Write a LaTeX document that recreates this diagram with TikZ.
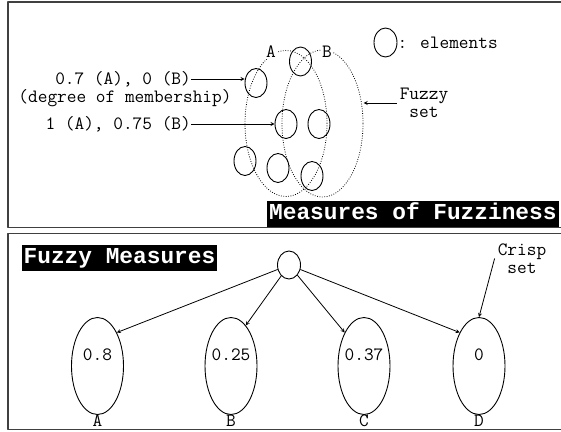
\documentclass[tikz,border=0pt]{standalone}
\usepackage{fontspec}
\newfontfamily\bannerfont{Liberation Mono}
\usetikzlibrary{shapes.geometric}

\tikzset{
  txt/.style={font=\ttfamily\fontsize{18.8}{17.5}\selectfont, inner sep=0pt},
  elem/.style={draw, ellipse, line width=0.9pt, minimum width=22pt, minimum height=29pt, inner sep=0pt},
  fset/.style={draw, ellipse, line width=0.8pt, dash pattern=on 0.8pt off 1.6pt, minimum width=82pt, minimum height=146pt, inner sep=0pt},
  meas/.style={draw, ellipse, line width=0.9pt, minimum width=52pt, minimum height=97pt, inner sep=0pt},
  banner/.style={fill=black, text=white, font=\bannerfont\bfseries\fontsize{22.8}{24}\selectfont,
    inner xsep=2pt, inner ysep=0pt, minimum height=26pt, text height=15pt, text depth=4pt},
  panel/.style={draw=black!75, line width=1.3pt},
}

\begin{document}
\begin{tikzpicture}[x=1pt, y=-1pt, line join=round, >=stealth]
  \useasboundingbox (0,0) rectangle (561,431);

  % Panels
  \draw[panel] (8,2) rectangle (566,227.5);
  \draw[panel] (8,233.5) rectangle (566,429.5);

  % Fuzzy sets A and B
  \node[fset] (setA) at (286,123.5) {};
  \node[fset, minimum width=81pt, minimum height=147pt] (setB) at (322.5,123.5) {};
  \node[txt, fill=white, inner sep=1pt] (labA) at (271,52) {A};
  \node[txt, fill=white, inner sep=1pt] (labB) at (327,52) {B};

  % Elements
  \node[elem] (e1) at (300.5,61.5) {};
  \node[elem] (e2) at (256,83) {};
  \node[elem] (e3) at (286,124) {};
  \node[elem] (e4) at (319,124) {};
  \node[elem] (e5) at (245,161) {};
  \node[elem] (e6) at (278,168) {};
  \node[elem] (e7) at (312,176) {};

  % Legend
  \node[elem, minimum width=23pt] (e0) at (385.5,42.5) {};
  \node[txt, anchor=west] (legend) at (e0.east) {: elements};

  % Membership degrees
  \node[txt, anchor=east] (deg1) at (191,79) {0.7 (A), 0 (B)};
  \node[txt] (degnote) at (125,98.5) {(degree of membership)};
  \node[txt, anchor=east] (deg2) at (191,124) {1 (A), 0.75 (B)};
  \draw[->, line width=0.8pt] (deg1.east) -- (deg1.east -| e2.west);
  \draw[->, line width=0.8pt] (deg2.east) -- (e3.west);

  \node[txt, align=center, inner xsep=3pt] (fuzzy) at (424,103) {Fuzzy\\set};
  \draw[->, line width=0.8pt] (fuzzy.west) -- ([xshift=-33pt]fuzzy.west);

  \node[banner, anchor=south west] (mof) at (267,227.5) {Measures of Fuzziness};

  % Fuzzy measures
  \node[banner, anchor=north west] (fm) at (21.5,245) {Fuzzy Measures};
  \node[elem, minimum width=23pt, minimum height=28pt] (root) at (289,265) {};

  \node[meas] (a) at (97.5,366) {};
  \node[meas] (b) at (231,366) {};
  \node[meas] (c) at (364,366) {};
  \node[meas] (d) at (479,366) {};

  \node[txt] (va) at (97.5,355) {0.8};
  \node[txt] (vb) at (231,355) {0.25};
  \node[txt] (vc) at (364,355) {0.37};
  \node[txt] (vd) at (479,355) {0};

  \node[txt] (na) at (97.5,421) {A};
  \node[txt] (nb) at (231,421) {B};
  \node[txt] (nc) at (364,421) {C};
  \node[txt] (nd) at (479,421) {D};

  \draw[->, line width=0.8pt] (root) -- (a.60);
  \draw[->, line width=0.8pt] (root) -- (b.70);
  \draw[->, line width=0.8pt] (root) -- (c.120);
  \draw[->, line width=0.8pt] (root) -- (d.120);

  \node[txt, align=center, inner xsep=3pt] (crisp) at (522,258.5) {Crisp\\set};
  \draw[->, line width=0.8pt] (crisp.west) -- (d.north);
\end{tikzpicture}
\end{document}
